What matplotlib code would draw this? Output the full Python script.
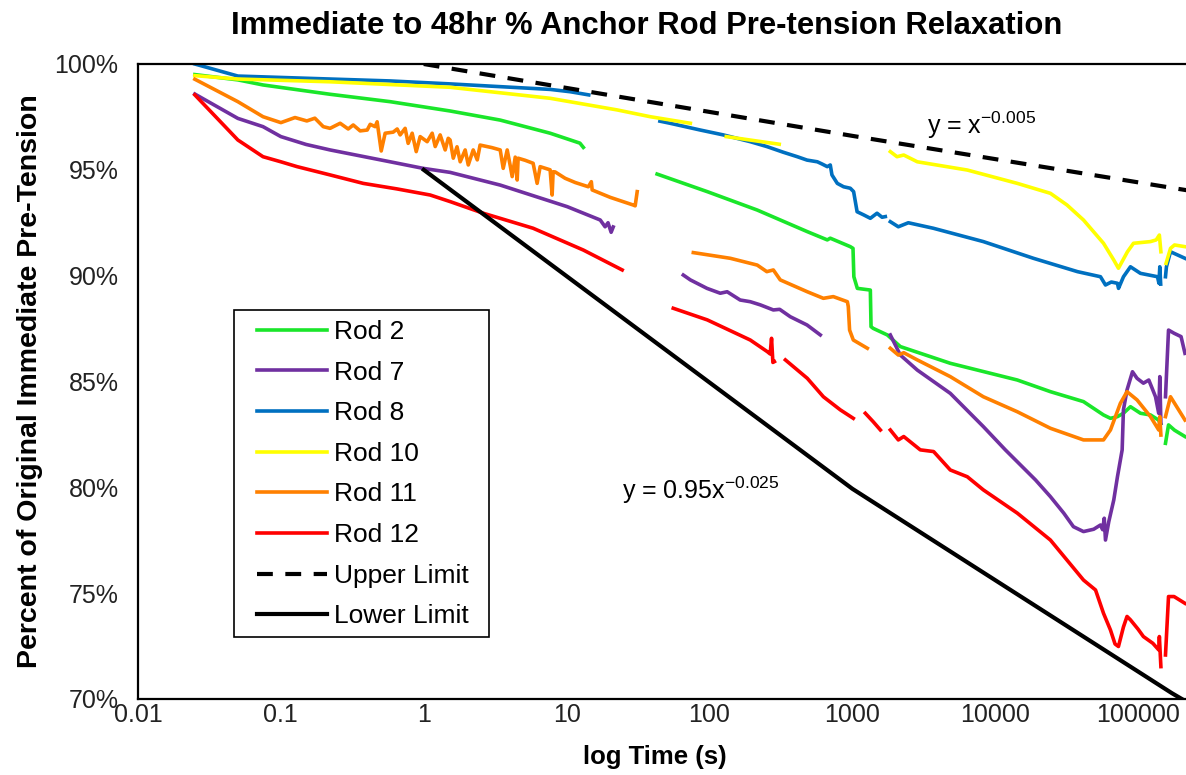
import numpy as np
import matplotlib
matplotlib.use("Agg")
import matplotlib.pyplot as plt
from matplotlib.patches import Rectangle
from matplotlib.ticker import FixedLocator, FixedFormatter, NullLocator

plt.rcParams['font.family'] = ['Liberation Sans', 'DejaVu Sans']
plt.rcParams['mathtext.default'] = 'regular'

nan = np.nan

# ---- measured relaxation, time in seconds, tension in % of immediate value ----
rod2_t = [0.025, 0.05, 0.075, 0.221, 0.582, 1.53, 3.43, 7.67, 12.4, 13.1, nan,
          43.0, 96.5, 216, 484, 668, 701, 968, 1011, 1025, 1084, 1337, 1352, 1400, 1757,
          2167, 4850, 14290, 24350, 41500, 57300, 64100, 71750, 79000, 88460, 103900,
          122200, 139000, 144000, nan,
          155600, 163400, 180000, 213000]
rod2_pct = [99.50, 99.25, 99.01, 98.57, 98.22, 97.78, 97.35, 96.73, 96.26, 96.06, nan,
            94.80, 93.97, 93.10, 92.08, 91.69, 91.77, 91.37, 91.29, 89.95, 89.40, 89.32, 87.59, 87.51, 87.20,
            86.65, 85.86, 85.07, 84.52, 84.05, 83.42, 83.26, 83.34, 83.50, 83.81, 83.50,
            83.42, 83.18, 83.00, nan,
            82.08, 82.95, 82.70, 82.40]

rod7_t = [0.025, 0.05, 0.075, 0.1, 0.15, 0.221, 0.582, 0.99, 1.53, 3.43, 10.1, 17.2, 18.6, 19.5, 20.5, 21.2, nan,
          65.6, 73.5, 96.1, 119, 133, 164, 193, 227, 280, 310, 368, 482, 597, nan,
          1845, 2167, 2850, 4850, 8260, 11780, 19150, 24350, 30200, 35300,
          41500, 48900, 54580, 56500, 58000, 59150, 62400, 67600, 71750, 77400,
          79000, 83700, 91400, 98400, 109000, 118900, 125500, 132500, 139500, 142000, 144500, nan,
          155600, 163400, 178600, 200000, 213000]
rod7_pct = [98.58, 97.43, 97.04, 96.57, 96.20, 95.94, 95.38, 95.07, 94.88, 94.28, 93.26, 92.63, 92.31, 92.50, 92.05, 92.30, nan,
            90.03, 89.80, 89.40, 89.17, 89.24, 88.85, 88.77, 88.62, 88.38, 88.41, 88.06, 87.67, 87.20, nan,
            87.20, 86.25, 85.54, 84.44, 82.87, 81.77, 80.35, 79.56, 78.78, 78.14,
            77.91, 78.02, 78.22, 78.00, 78.54, 77.51, 78.38, 79.40, 80.50, 81.77,
            83.66, 84.60, 85.46, 85.15, 84.92, 85.07, 84.68, 84.28, 83.50, 85.23, 83.03, nan,
            84.28, 87.43, 87.28, 87.12, 86.33]

rod8_t = [0.025, 0.05, 0.221, 0.58, 1.53, 7.67, 10.6, 14.3, nan,
          45, 53, 86.3, 125, 193, 252, 329, 412, 482, 569, 612, 668, 701, 720, 785,
          869, 968, 1021, 1080, 1202, 1337, 1489, 1615, 1702, nan,
          1845, 2099, 2466, 3690, 8260, 18530, 37670, 54580, 59150, 65000, 71750, 73000,
          79070, 88460, 103900, 136800, 140000, 142000, 144000, nan,
          155600, 158000, 168700, 213000]
rod8_pct = [100.0, 99.43, 99.29, 99.20, 99.06, 98.80, 98.69, 98.54, nan,
            97.30, 97.20, 96.88, 96.65, 96.33, 96.10, 95.83, 95.62, 95.46, 95.38, 95.28, 95.15, 95.23, 94.76, 94.36,
            94.20, 94.13, 93.97, 93.02, 92.87, 92.71, 92.95, 92.76, 92.79, nan,
            92.55, 92.31, 92.50, 92.24, 91.61, 90.82, 90.19, 89.95, 89.56, 89.70, 89.64, 89.40,
            89.95, 90.42, 90.11, 89.95, 89.64, 90.42, 89.60, nan,
            89.95, 90.42, 91.13, 90.82]

rod10_t = [0.025, 0.05, 0.221, 1.53, 7.67, 22.6, 38.5, 73.5, nan,
           131, 308, nan,
           1845, 2055, 2290, 2850, 6380, 14290, 24350, 31800, 41500, 57300, 67600, 72900,
           84300, 92900, 122200, 134000, 141000, 144500, nan,
           157000, 168700, 180000, 213000]
rod10_pct = [99.45, 99.29, 99.16, 98.90, 98.38, 97.83, 97.51, 97.20, nan,
             96.57, 96.21, nan,
             95.86, 95.62, 95.70, 95.38, 94.99, 94.36, 93.89, 93.34, 92.63, 91.53, 90.74, 90.35,
             91.13, 91.53, 91.61, 91.69, 91.92, 91.13, nan,
             90.58, 91.29, 91.45, 91.37]

rod11_t = [0.025, 0.05, 0.075, 0.1, 0.1256, 0.152, 0.173, 0.198, 0.221, 0.260,
           0.296, 0.321, 0.359, 0.402, 0.422, 0.457, 0.472, 0.504, 0.537, 0.611,
           0.652, 0.684, 0.741, 0.778, 0.830, 0.886, 0.944, 1.057, 1.146, 1.203,
           1.303, 1.413, 1.484, 1.53, 1.61, 1.71, 1.80, 1.95, 2.05, 2.22,
           2.37, 2.48, 3.0, 3.43, 3.60, 3.84, 4.03, 4.16, 4.37, 4.51,
           4.58, 5.13, 5.83, 6.22, 6.53, 7.67, 7.92, 8.05, 8.32, 9.77,
           11.5, 14.2, 14.9, 15.1, 20.2, 29.2, 30.2, 31.2, nan,
           77.1, 140, 216, 252, 280, 313, 484, 627, 736, 923, 937, 957, 1016, 1274, nan,
           1845, 2099, 2290, 2850, 4850, 8260, 14290, 24350, 41500, 57300, 64100, 75200,
           83700, 98400, 122200, 139500, 142000, 144500, nan,
           155600, 168700, 213000]
rod11_pct = [99.28, 98.22, 97.51, 97.23, 97.47, 97.31, 97.44, 97.04, 96.96, 97.20,
             96.93, 97.12, 96.84, 96.88, 97.15, 97.04, 97.27, 95.89, 96.73, 96.78,
             96.93, 96.65, 96.96, 96.25, 96.73, 95.86, 96.57, 96.33, 96.73, 96.10,
             96.65, 95.94, 96.49, 96.41, 95.55, 96.09, 95.38, 95.94, 95.23, 95.94,
             95.47, 96.17, 96.05, 95.94, 95.07, 95.94, 95.20, 94.68, 95.60, 94.52,
             95.55, 95.45, 95.31, 94.36, 95.15, 95.00, 93.81, 94.91, 94.90, 94.60,
             94.40, 94.20, 94.44, 94.05, 93.70, 93.34, 93.30, 93.97, nan,
             91.09, 90.82, 90.50, 90.19, 90.27, 89.80, 89.24, 88.93, 89.01, 88.77, 88.54, 87.43, 86.96, 86.57, nan,
             86.57, 86.25, 86.36, 86.02, 85.23, 84.28, 83.57, 82.79, 82.24, 82.24, 82.71, 83.97,
             84.52, 84.13, 83.34, 82.71, 83.34, 82.47, nan,
             83.34, 84.28, 83.18]

rod12_t = [0.025, 0.05, 0.075, 0.1, 0.130, 0.221, 0.377, 0.648, 1.11, 1.53, 2.61, 5.83, 13.1, 24.5, nan,
           55.8, 96.6, 193, 254, 266, 272, 278, 285, nan,
           340, 484, 627, 824, 1016, nan,
           1233, 1400, 1572, nan,
           1845, 2099, 2290, 2990, 3707, 4850, 6380, 8260, 14290, 24350,
           41500, 50400, 57300, 64100, 69000, 72900, 79000, 83700, 88460, 100000,
           109000, 127000, 139500, 141000, 144500, nan,
           155600, 163400, 178600, 213000]
rod12_pct = [98.54, 96.41, 95.62, 95.38, 95.15, 94.76, 94.36, 94.10, 93.81, 93.50, 92.95, 92.24, 91.21, 90.27, nan,
             88.46, 87.91, 86.96, 86.41, 86.30, 87.04, 85.90, 85.94, nan,
             86.02, 85.15, 84.28, 83.66, 83.26, nan,
             83.50, 83.10, 82.71, nan,
             82.71, 82.24, 82.40, 81.77, 81.69, 80.82, 80.50, 79.88, 78.78, 77.51,
             75.62, 75.15, 74.05, 73.26, 72.60, 72.48, 73.40, 73.90, 73.74, 73.30,
             72.95, 72.63, 72.32, 72.95, 71.53, nan,
             72.08, 74.84, 74.84, 74.52]

# ---- bounding power laws: upper y = x^-0.005, lower y = 0.95 x^-0.025 ----
limit_t = np.array([1, 1000, 172800, 1000000], dtype=float)
upper_coef, upper_exp = 1.00, -0.005
lower_coef, lower_exp = 0.95, -0.025
upper_pct = 100 * upper_coef * limit_t ** upper_exp
lower_pct = 100 * lower_coef * limit_t ** lower_exp

rod_names = ['Rod 2', 'Rod 7', 'Rod 8', 'Rod 10', 'Rod 11', 'Rod 12']
rod_colors = ['#1AE62A', '#7030A0', '#0070C0', '#FFFF00', '#FF8000', '#FF0000']
rod_times = [rod2_t, rod7_t, rod8_t, rod10_t, rod11_t, rod12_t]
rod_values = [rod2_pct, rod7_pct, rod8_pct, rod10_pct, rod11_pct, rod12_pct]

x_ticks = [0.01, 0.1, 1, 10, 100, 1000, 10000, 100000]
x_tick_labels = ['0.01', '0.1', '1', '10', '100', '1000', '10000', '100000']
y_ticks = [70, 75, 80, 85, 90, 95, 100]
y_tick_labels = ['70%', '75%', '80%', '85%', '90%', '95%', '100%']

W, H = 1186, 775
fig = plt.figure(figsize=(W / 100, H / 100), dpi=100)
# plot area; the right edge runs past the canvas
ax = fig.add_axes([138 / W, (H - 699) / H, (1190 - 138) / W, (699 - 64) / H])

for t, v, c, name in zip(rod_times, rod_values, rod_colors, rod_names):
    ax.plot(np.asarray(t, float), np.asarray(v, float), color=c, lw=2.6,
            solid_joinstyle='round', label=name)

ax.plot(limit_t, upper_pct, color='black', lw=3.0, linestyle=(0, (3.8, 3.0)),
        label='Upper Limit')
ax.plot(limit_t, lower_pct, color='black', lw=3.0, label='Lower Limit')

ax.set_xscale('log')
ax.set_xlim(0.01, 2.31e5)
ax.set_ylim(70, 100)
ax.xaxis.set_major_locator(FixedLocator(x_ticks))
ax.xaxis.set_major_formatter(FixedFormatter(x_tick_labels))
ax.xaxis.set_minor_locator(NullLocator())
ax.yaxis.set_major_locator(FixedLocator(y_ticks))
ax.yaxis.set_major_formatter(FixedFormatter(y_tick_labels))
ax.tick_params(axis='both', length=0, labelsize=18, colors='#222222')
ax.tick_params(axis='y', pad=14)
ax.tick_params(axis='x', pad=3)
for s in ax.spines.values():
    s.set_linewidth(1.6)
    s.set_color('black')

ax.text(3350, 97.12, r'y = x$^{-0.005}$', fontsize=18, ha='left', va='center')
ax.text(24.5, 79.88, r'y = 0.95x$^{-0.025}$', fontsize=18, ha='left', va='center')

fig.text(647 / W, 1 - 26 / H, 'Immediate to 48hr % Anchor Rod Pre-tension Relaxation',
         fontsize=22.3, fontweight='bold', ha='center', va='center')
fig.text(655 / W, 1 - 757 / H, 'log Time (s)', fontsize=18.5, fontweight='bold',
         ha='center', va='center')
fig.text(30 / W, 1 - 381 / H, 'Percent of Original Immediate Pre-Tension', fontsize=20.5,
         fontweight='bold', ha='center', va='center', rotation=90)

# legend frame and entries
fig.add_artist(Rectangle((234 / W, 1 - 637 / H), (489 - 234) / W, (637 - 310) / H,
                         transform=fig.transFigure, facecolor='white', edgecolor='black',
                         lw=1.2, zorder=5))
handles, labels = ax.get_legend_handles_labels()
leg = fig.legend(handles, labels, loc='upper left', bbox_to_anchor=(257 / W, 1 - 320 / H),
                 bbox_transform=fig.transFigure, frameon=False, fontsize=19,
                 borderpad=0, borderaxespad=0, handlelength=2.65, handletextpad=0.28,
                 labelspacing=0.63)
leg.set_zorder(6)

fig.savefig('out.png', dpi=100)
